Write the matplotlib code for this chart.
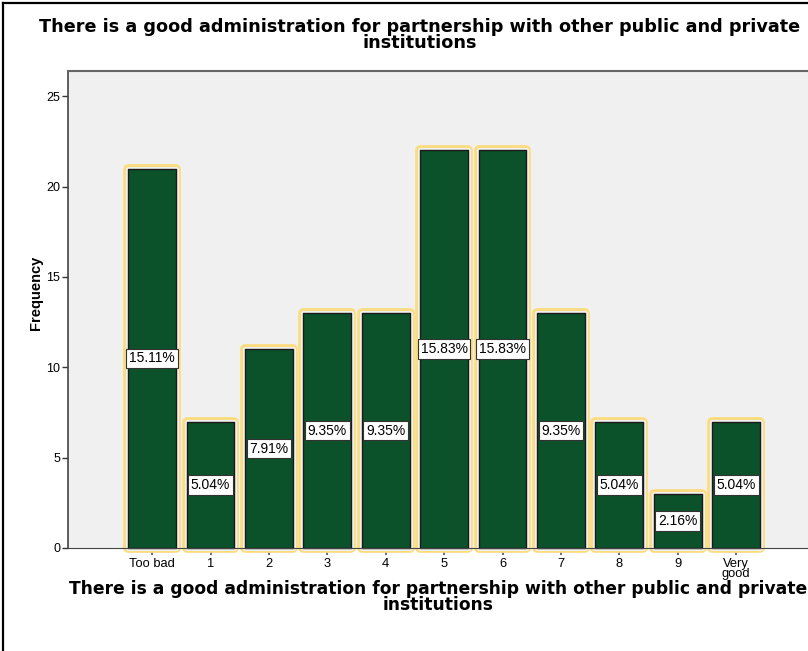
import numpy as np
import matplotlib.pyplot as plt
import matplotlib.patheffects as pe
from matplotlib.lines import Line2D

categories = ['Too bad', '1', '2', '3', '4', '5', '6', '7', '8', '9', 'Very\ngood']
freq = [21, 7, 11, 13, 13, 22, 22, 13, 7, 3, 7]
percent_labels = ['15.11%', '5.04%', '7.91%', '9.35%', '9.35%', '15.83%',
                  '15.83%', '9.35%', '5.04%', '2.16%', '5.04%']
yticks = [0, 5, 10, 15, 20, 25]

title = ('There is a good administration for partnership with other public and private\n'
         'institutions')

plt.rcParams['font.family'] = ['Liberation Sans', 'DejaVu Sans']
wide_bold = dict(family='DejaVu Sans', fontweight='bold')

fig = plt.figure(figsize=(8.08, 6.51), dpi=100)
ax = fig.add_axes([68/808, 103/651, 740/808, 477/651])
ax.set_facecolor('#f0f0f0')

x = np.arange(len(categories))
halo = [pe.Stroke(linewidth=7.0, foreground='#fbdd80'),
        pe.Stroke(linewidth=3.6, foreground='#f0f0f0'),
        pe.Normal()]
bars = ax.bar(x, freq, width=0.82, color='#0b522a', edgecolor='#1a1a1a',
              linewidth=1.0, zorder=2)
for b in bars:
    b.set_path_effects(halo)
    b.set_clip_on(False)
    b.set_joinstyle('round')

for xi, v, lab in zip(x, freq, percent_labels):
    ax.text(xi, v / 2, lab, ha='center', va='center', fontsize=10, zorder=4,
            bbox=dict(boxstyle='square,pad=0.2', fc='white', ec='#333333', lw=0.8))

ax.set_xlim(-1.44, 11.23)
ax.set_ylim(0, 26.4)
ax.set_yticks(yticks)
ax.set_xticks(x)
ax.set_xticklabels(categories, fontsize=9.3, linespacing=0.85)
ax.tick_params(axis='y', length=4.5, width=1.0, labelsize=9, pad=1, color='#333333')
ax.tick_params(axis='x', length=5, width=1.2, color='#555555', pad=2)
for t in ax.xaxis.get_ticklines():
    t.set_linestyle((0, (1, 1)))

ax.spines['right'].set_visible(False)
ax.spines['top'].set_color('#666666')
ax.spines['top'].set_linewidth(1.5)
ax.spines['left'].set_color('#444444')
ax.spines['left'].set_linewidth(1.2)
ax.spines['bottom'].set_color('#444444')
ax.spines['bottom'].set_zorder(3)

ax.set_ylabel('Frequency', fontsize=10.5, fontweight='bold')
ax.yaxis.set_label_coords(-0.034, 0.535)
ax.set_xlabel(title, fontsize=12.3, linespacing=0.8, **wide_bold)
ax.xaxis.set_label_coords(0.5, -0.068)
fig.text(420/808, 1 - 35/651, title, ha='center', va='center', fontsize=12.7,
         linespacing=0.8, **wide_bold)

# outer frame of the exported chart (left and top edges)
fig.add_artist(Line2D([3/808, 3/808], [0, 1 - 3/651], color='black', lw=1.6,
                      transform=fig.transFigure))
fig.add_artist(Line2D([3/808, 1], [1 - 3/651, 1 - 3/651], color='black', lw=1.6,
                      transform=fig.transFigure))

fig.savefig('out.png', dpi=100, facecolor='white')
